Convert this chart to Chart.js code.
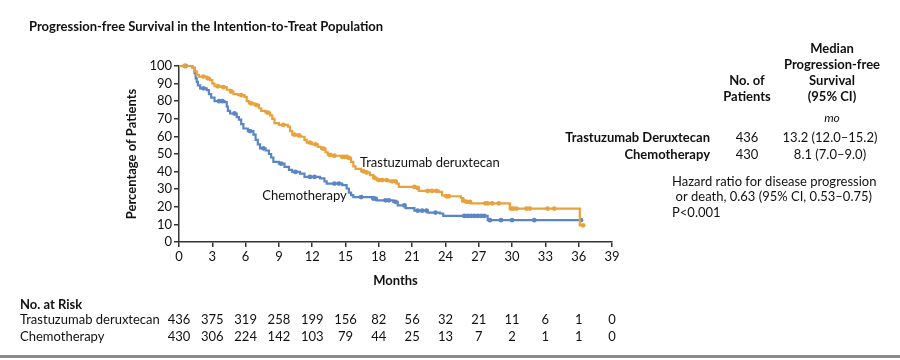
<!DOCTYPE html>
<html>
<head>
<meta charset="utf-8">
<script src="https://cdn.jsdelivr.net/npm/chart.js@4.4.1/dist/chart.umd.min.js"></script>
<style>
  html, body { margin: 0; padding: 0; background: #fff; }
  #wrap { width: 900px; height: 360px; position: relative; }
  canvas { display: block; }
</style>
</head>
<body>
<div id="wrap"><canvas id="c" width="900" height="360" style="width:900px;height:360px"></canvas></div>
<script>
// ---------------- DATA ----------------
const xTicks = [0, 3, 6, 9, 12, 15, 18, 21, 24, 27, 30, 33, 36, 39];
const yTicks = [0, 10, 20, 30, 40, 50, 60, 70, 80, 90, 100];
const atRiskTdxd  = [436, 375, 319, 258, 199, 156, 82, 56, 32, 21, 11, 6, 1, 0];
const atRiskChemo = [430, 306, 224, 142, 103, 79, 44, 25, 13, 7, 2, 1, 1, 0];

// Kaplan–Meier step points (months, % progression-free)
const tdxdTime = [0, 1.2, 1.4, 1.6, 1.8, 2.5, 2.8, 3.0, 3.2, 3.8, 4.3, 4.6, 4.9, 5.3, 5.9, 6.1, 6.3, 6.8, 7.2, 7.4,
  7.8, 8.2, 8.4, 8.6, 9.0, 9.8, 10.0, 10.2, 10.6, 11.0, 11.3, 11.5, 12.0, 12.5, 12.8, 13.2, 13.4, 13.8, 14.6, 15.2,
  15.5, 15.7, 15.9, 16.4, 16.8, 17.2, 17.5, 17.8, 18.9, 19.6, 19.8, 21.3, 21.6, 23.4, 23.7, 24.0, 25.4, 25.6, 25.8, 26.3,
  29.8, 36.1, 36.4];
const tdxdSurv = [100, 99, 97, 95, 94, 93, 92, 90, 88.5, 88, 86.5, 85.5, 84, 83.5, 82.5, 80, 78.8, 77.8, 76, 74.5,
  73.5, 72, 70, 67.5, 66.5, 65.5, 63, 61, 60.5, 59.8, 58, 56.5, 55.5, 54, 53, 51, 49.5, 49, 48.4, 47.8,
  45.5, 43, 41.5, 40.2, 39.5, 38, 36.5, 35.2, 34.5, 33.2, 31.3, 30.7, 29, 28.5, 26.5, 26, 25, 23.5, 22.8, 22,
  19, 9.5, 9.5];

const chemoTime = [0, 1.2, 1.4, 1.5, 1.6, 1.7, 1.9, 2.5, 2.7, 2.9, 3.2, 4.1, 4.3, 4.4, 4.6, 5.2, 5.4, 5.6, 5.8, 6.2,
  6.7, 6.9, 7.1, 7.3, 7.8, 8.1, 8.3, 8.5, 9.0, 9.5, 9.9, 10.2, 10.9, 11.3, 12.7, 13.1, 13.3, 14.7, 15.1, 15.3,
  15.5, 15.7, 17.5, 17.8, 19.3, 19.7, 20.4, 21.2, 22.4, 23.5, 23.8, 27.8, 36.2];
const chemoSurv = [100, 99, 96, 93, 91, 89, 87.3, 86.3, 84, 82, 80, 79.5, 77, 74.5, 73, 71, 69.5, 67, 64.5, 63,
  61, 58, 55.5, 53.2, 52, 50, 48, 45.5, 44.5, 42.7, 41, 39.8, 38.9, 37, 36.1, 34.5, 33.2, 32.3, 30.4, 28,
  26.6, 25.5, 24.7, 23.7, 22.8, 20.8, 19.2, 17.8, 16.7, 16.2, 14.8, 12.4, 12.4];

// censoring times (months)
const tdxdCensor = [0.5, 2.2, 2.6, 3.5, 4.0, 4.7, 5.6, 6.5, 7.0, 8.0, 9.4, 10.4, 10.8, 11.8, 12.3, 13.0, 13.6, 14.0,
  14.7, 14.9, 15.1, 15.3, 16.6, 16.9, 17.6, 18.0, 18.3, 18.7, 19.2, 19.5, 21.2, 21.5, 22.4, 22.8, 23.2, 24.1, 24.3,
  25.6, 25.9, 26.2, 27.6, 27.8, 28.2, 28.8, 29.9, 30.1, 30.4, 31.3, 31.6, 33.2, 33.8, 36.4];
const chemoCensor = [0.6, 2.2, 3.6, 3.9, 5.0, 6.4, 7.6, 9.2, 10.5, 11.8, 12.2, 14.0, 14.4, 16.4, 17.5, 17.7, 18.6, 18.9,
  19.5, 20.3, 21.5, 21.9, 22.3, 23.1, 25.7, 26.0, 26.3, 26.6, 26.9, 27.2, 27.5, 28.0, 29.0, 30.0, 32.0, 36.2];

// ---------------- STYLE ----------------
const ORANGE = '#E9A23B';
const BLUE = '#5A86C5';
const FONT = 'Lato, "Open Sans", sans-serif';
const AXIS = '#333';

function toPts(times, vals) { return times.map((t, i) => ({ x: t, y: vals[i] })); }
function stepAt(times, vals, t) {
  let v = vals[0];
  for (let i = 0; i < times.length; i++) { if (times[i] <= t) v = vals[i]; else break; }
  return v;
}
function censorPts(ct, times, vals) { return ct.map(t => ({ x: t, y: stepAt(times, vals, t) })); }

const textPlugin = {
  id: 'texts',
  afterDraw(chart) {
    const ctx = chart.ctx;
    const xs = chart.scales.x, ys = chart.scales.y;
    ctx.save();
    ctx.fillStyle = '#111';
    ctx.textBaseline = 'middle';

    // Title
    ctx.font = 'bold 13px ' + FONT;
    ctx.textAlign = 'left';
    ctx.fillText('Progression-free Survival in the Intention-to-Treat Population', 29, 27);

    // Curve annotations
    ctx.font = '13px ' + FONT;
    ctx.fillText('Trastuzumab deruxtecan', xs.getPixelForValue(16.3), ys.getPixelForValue(44.8));
    ctx.fillText('Chemotherapy', xs.getPixelForValue(7.5), ys.getPixelForValue(26.2));

    // Axis titles
    ctx.font = 'bold 13px ' + FONT;
    ctx.textAlign = 'center';
    ctx.fillText('Months', (xs.left + xs.right) / 2, 281);
    ctx.save();
    ctx.translate(132, (ys.top + ys.bottom) / 2);
    ctx.rotate(-Math.PI / 2);
    ctx.fillText('Percentage of Patients', 0, 0);
    ctx.restore();

    // Legend table
    ctx.font = 'bold 13px ' + FONT;
    ctx.textAlign = 'center';
    ctx.fillText('Median', 832, 49);
    ctx.fillText('Progression-free', 832, 65);
    ctx.fillText('Survival', 832, 81);
    ctx.fillText('(95% CI)', 832, 97);
    ctx.fillText('No. of', 747, 81);
    ctx.fillText('Patients', 747, 97);
    ctx.font = 'italic 12px ' + FONT;
    ctx.fillText('mo', 832, 118);
    ctx.font = 'bold 13px ' + FONT;
    ctx.textAlign = 'right';
    ctx.fillText('Trastuzumab Deruxtecan', 710, 138);
    ctx.fillText('Chemotherapy', 710, 155);
    ctx.font = '13px ' + FONT;
    ctx.textAlign = 'center';
    ctx.fillText('436', 747, 138);
    ctx.fillText('430', 747, 155);
    ctx.fillText('13.2 (12.0\u201315.2)', 830, 138);
    ctx.fillText('8.1 (7.0\u20139.0)', 830, 155);
    ctx.textAlign = 'left';
    ctx.fillText('Hazard ratio for disease progression', 672, 182);
    ctx.textAlign = 'right';
    ctx.fillText('or death, 0.63 (95% CI, 0.53\u20130.75)', 872, 197);
    ctx.textAlign = 'left';
    ctx.fillText('P<0.001', 672, 213);

    // At-risk table
    ctx.font = 'bold 13px ' + FONT;
    ctx.fillText('No. at Risk', 20, 305);
    ctx.font = '13px ' + FONT;
    ctx.fillText('Trastuzumab deruxtecan', 20, 320);
    ctx.fillText('Chemotherapy', 20, 337);
    ctx.textAlign = 'center';
    xTicks.forEach((m, i) => {
      const px = xs.getPixelForValue(m);
      ctx.fillText(String(atRiskTdxd[i]), px, 320);
      ctx.fillText(String(atRiskChemo[i]), px, 337);
    });

    // Bottom rule
    ctx.fillStyle = '#8a8a8a';
    ctx.fillRect(0, 355, 900, 3);
    ctx.restore();
  }
};

const ctx = document.getElementById('c').getContext('2d');
new Chart(ctx, {
  type: 'line',
  data: {
    datasets: [
      { label: 'Trastuzumab deruxtecan', data: toPts(tdxdTime, tdxdSurv), stepped: true,
        borderColor: ORANGE, borderWidth: 2.2, pointRadius: 0, fill: false, clip: false },
      { label: 'Chemotherapy', data: toPts(chemoTime, chemoSurv), stepped: true,
        borderColor: BLUE, borderWidth: 2.2, pointRadius: 0, fill: false, clip: false },
      { label: 'T-DXd censored', data: censorPts(tdxdCensor, tdxdTime, tdxdSurv), showLine: false,
        pointRadius: 2.4, pointBackgroundColor: ORANGE, pointBorderWidth: 0, clip: false },
      { label: 'Chemo censored', data: censorPts(chemoCensor, chemoTime, chemoSurv), showLine: false,
        pointRadius: 2.4, pointBackgroundColor: BLUE, pointBorderWidth: 0, clip: false }
    ]
  },
  options: {
    responsive: false,
    animation: false,
    layout: { padding: { left: 0, top: 66, right: 288, bottom: 0 } },
    plugins: { legend: { display: false }, tooltip: { enabled: false }, title: { display: false } },
    scales: {
      x: {
        type: 'linear', min: 0, max: 39,
        afterBuildTicks: s => { s.ticks = xTicks.map(v => ({ value: v })); },
        ticks: { color: '#111', font: { family: FONT, size: 13 }, padding: 2, maxRotation: 0, autoSkip: false },
        grid: { drawOnChartArea: false, tickLength: 5, color: AXIS, lineWidth: 1.5 },
        border: { display: true, color: AXIS, width: 1.5 },
        afterFit: s => { s.height = 118; }
      },
      y: {
        min: 0, max: 100,
        afterBuildTicks: s => { s.ticks = yTicks.map(v => ({ value: v })); },
        ticks: { color: '#111', font: { family: FONT, size: 13 }, padding: 2, autoSkip: false },
        grid: { drawOnChartArea: false, tickLength: 5, color: AXIS, lineWidth: 1.5 },
        border: { display: true, color: AXIS, width: 1.5 },
        afterFit: s => { s.width = 179; }
      }
    }
  },
  plugins: [textPlugin]
});
</script>
</body>
</html>
